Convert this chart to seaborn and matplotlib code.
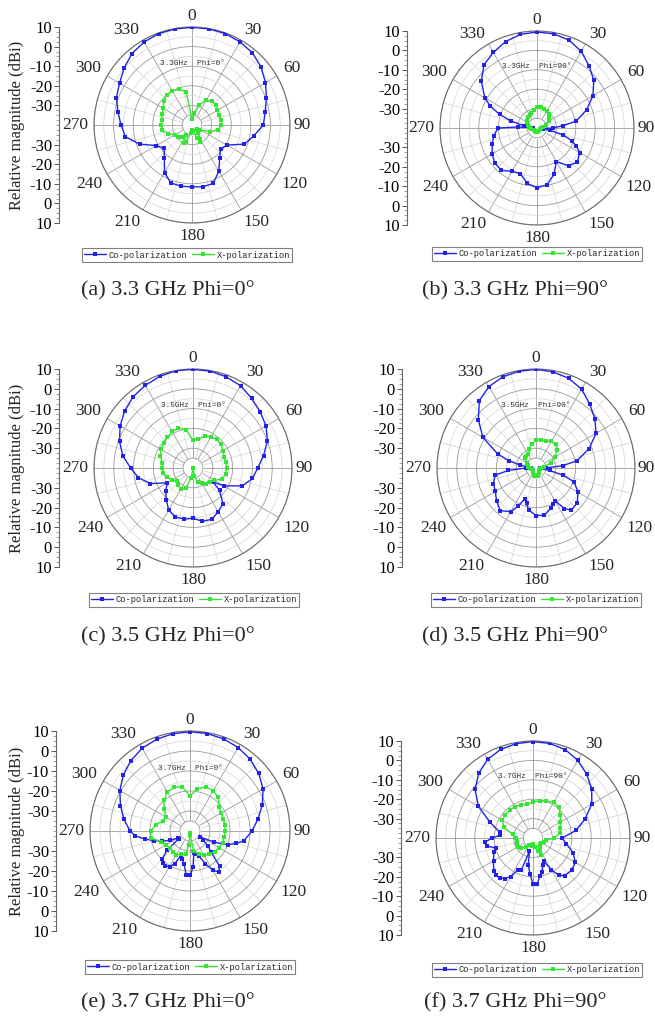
import numpy as np
import pandas as pd
import matplotlib
matplotlib.use("Agg")
import matplotlib.pyplot as plt
import seaborn as sns
from matplotlib.ticker import MultipleLocator

sns.set_theme(style="white")
plt.rcParams['font.family'] = ['Liberation Serif', 'DejaVu Serif']

# ---- data (dB vs angle in degrees) ----
ang_a_co = [0, 10, 20, 30, 40, 50, 60, 70, 80, 90, 100, 110, 120, 130, 140, 150, 160, 170,
            180, 190, 200, 210, 220, 230, 240, 250, 260, 270, 280, 290, 300, 310, 320, 330, 340, 350]
co_a = [9.8, 9.8, 9.6, 9.0, 8.0, 6.0, 3.3, 0.4, -2.1, -3.6, -8.0, -11.5, -19.5, -21.0, -18.0, -12.7, -8.3, -8.0,
        -8.4, -8.3, -8.5, -12.0, -18.0, -21.5, -19.0, -11.5, -5.5, -3.8, -1.6, 1.0, 2.7, 5.2, 7.6, 8.9, 9.6, 9.8]
ang_a_x = [0, 10, 20, 30, 40, 50, 60, 70, 80, 90, 100, 110, 120, 130, 140, 150, 155, 160, 170,
           180, 190, 200, 205, 210, 220, 230, 240, 250, 260, 270, 280, 290, 300, 310, 320, 330, 340, 350]
x_a = [-37.0, -34.0, -29.0, -25.5, -24.3, -23.8, -25.0, -25.5, -25.0, -25.0, -26.5, -30.0, -35.0, -37.0, -35.0, -32.0, -30.5, -33.0, -37.0,
       -37.5, -36.0, -31.0, -30.0, -34.0, -32.0, -30.5, -30.0, -27.0, -24.6, -24.3, -24.3, -23.8, -23.0, -21.2, -19.8, -20.0, -20.4, -23.0]

ang_b_co = [0, 10, 20, 30, 40, 50, 60, 70, 80, 85, 90, 95, 100, 105, 110, 115, 120, 130, 140, 150, 160, 170,
            180, 190, 200, 210, 220, 230, 240, 250, 260, 270, 273, 276, 280, 285, 290, 295, 300, 310, 320, 330, 340, 350]
co_b = [9.5, 9.3, 8.2, 5.6, 1.8, -1.8, -6.7, -12.8, -19.5, -26.7, -32.0, -37.0, -33.0, -26.0, -21.0, -17.6, -14.5, -12.9, -14.5, -20.0, -14.5, -10.3,
        -9.2, -11.0, -15.0, -14.2, -11.5, -11.7, -13.2, -15.5, -17.3, -20.0, -30.0, -38.0, -33.0, -26.0, -19.5, -13.5, -9.0, -2.5, 2.5, 5.0, 7.4, 9.0]
ang_b_x = [0, 10, 20, 30, 40, 50, 60, 70, 80, 90, 100, 120, 140, 160, 180, 200, 220, 240,
           260, 270, 280, 290, 300, 310, 320, 330, 340, 350]
x_b = [-29.0, -28.8, -29.5, -29.6, -30.5, -31.6, -33.0, -35.0, -37.0, -38.0, -38.5, -38.5, -38.3, -38.3, -38.0, -38.0, -38.3, -38.0,
       -37.0, -36.5, -36.0, -35.0, -34.0, -33.2, -32.8, -32.5, -31.5, -30.5]

ang_c_co = [0, 10, 20, 30, 40, 50, 60, 70, 80, 90, 100, 110, 120, 125, 130, 140, 150, 160, 170,
            180, 190, 200, 210, 220, 230, 240, 250, 260, 270, 280, 290, 300, 310, 320, 330, 340, 350]
co_c = [9.8, 9.7, 9.0, 8.0, 6.0, 4.2, 2.6, 0.0, -3.8, -7.3, -9.5, -13.5, -22.0, -27.7, -22.5, -16.5, -14.5, -12.4, -12.7,
        -14.6, -13.8, -13.7, -15.5, -19.0, -22.0, -25.0, -17.0, -12.0, -8.5, -4.0, -0.5, 2.5, 5.0, 7.0, 8.2, 9.2, 9.9]
ang_c_x = [0, 10, 20, 30, 40, 50, 60, 70, 80, 90, 100, 110, 120, 130, 140, 150, 160, 170,
           180, 190, 200, 210, 220, 230, 240, 250, 260, 270, 280, 290, 300, 310, 320, 330, 340, 350]
x_c = [-26.0, -25.0, -23.0, -21.8, -21.2, -21.5, -22.5, -23.2, -23.3, -23.0, -23.3, -24.2, -27.5, -29.0, -29.7, -31.0, -32.6, -36.0,
       -40.0, -35.0, -29.0, -27.5, -28.5, -29.5, -28.0, -26.0, -24.8, -24.5, -24.2, -22.5, -21.3, -20.7, -19.8, -18.7, -18.5, -20.5]

ang_d_co = [0, 10, 20, 30, 40, 50, 60, 70, 80, 85, 90, 95, 100, 105, 110, 120, 130, 140, 145, 150, 155, 160, 170,
            180, 190, 195, 200, 205, 210, 220, 230, 240, 250, 260, 265, 270, 275, 280, 285, 290, 300, 310, 320, 330, 340, 350]
co_d = [9.8, 9.3, 8.2, 6.0, 2.2, -1.2, -5.0, -11.5, -19.0, -26.5, -35.0, -38.0, -33.0, -25.7, -19.5, -15.5, -12.8, -12.2, -15.0, -21.0, -20.0, -18.3, -15.8,
        -16.0, -18.5, -21.5, -23.5, -18.8, -14.5, -11.9, -14.0, -16.3, -17.1, -19.0, -26.0, -35.0, -37.5, -32.0, -26.0, -19.5, -9.0, -2.0, 4.5, 7.5, 9.0, 9.6]
ang_d_x = [0, 10, 20, 30, 40, 50, 60, 70, 80, 90, 100, 110, 120, 130, 140, 150, 160, 170,
           180, 190, 200, 210, 220, 230, 240, 250, 260, 270, 280, 290, 300, 310, 320, 330, 340, 350]
x_d = [-26.0, -25.5, -25.5, -24.5, -24.5, -26.0, -29.0, -32.0, -36.0, -37.5, -38.0, -38.0, -38.0, -38.0, -37.5, -37.0, -36.5, -36.0,
       -36.0, -36.0, -36.5, -37.0, -38.0, -38.0, -38.0, -38.0, -37.5, -37.0, -36.0, -35.5, -35.0, -32.5, -32.0, -32.0, -30.0, -27.5]

ang_e_co = [0, 10, 20, 30, 40, 50, 60, 70, 80, 90, 100, 105, 110, 115, 120, 125, 130, 135, 140, 145, 150, 155, 160, 165, 170, 175,
            180, 185, 190, 195, 200, 205, 210, 215, 220, 225, 230, 235, 240, 245, 250, 255, 260, 265, 270, 280, 290, 300, 310, 320, 330, 340, 350]
co_e = [9.6, 9.5, 9.0, 8.2, 6.8, 4.8, 2.2, -1.5, -5.5, -9.0, -12.5, -16.0, -20.0, -27.0, -34.0, -32.0, -28.0, -25.0, -17.0, -15.0, -17.5, -22.0, -26.5, -28.0, -29.0, -22.0,
        -17.8, -18.0, -23.0, -25.5, -27.0, -22.0, -19.5, -18.5, -19.0, -20.5, -25.0, -33.0, -33.0, -29.0, -25.0, -21.5, -17.0, -12.5, -10.0, -6.5, -3.0, 0.5, 3.5, 6.0, 7.8, 8.8, 9.4]
ang_e_x = [0, 10, 20, 30, 40, 50, 60, 70, 80, 90, 100, 110, 120, 130, 140, 150, 160, 170, 175,
           180, 185, 190, 200, 210, 220, 230, 240, 250, 260, 270, 280, 290, 300, 310, 320, 330, 340, 350]
x_e = [-22.5, -18.5, -16.5, -16.8, -18.0, -21.0, -22.0, -22.2, -22.4, -22.5, -22.5, -22.7, -23.3, -24.0, -25.0, -26.0, -27.5, -30.0, -38.0,
       -39.0, -33.0, -28.2, -27.5, -26.3, -26.5, -26.8, -26.0, -24.5, -20.0, -20.5, -22.5, -25.5, -26.3, -23.0, -19.8, -17.5, -16.8, -17.5]

ang_f_co = [0, 10, 20, 30, 40, 50, 60, 70, 80, 90, 100, 110, 120, 130, 140, 145, 150, 155, 160, 165, 170, 175,
            180, 185, 190, 195, 200, 205, 210, 215, 220, 225, 230, 240, 250, 255, 260, 265, 270, 275, 280, 290, 300, 310, 320, 330, 340, 350]
co_f = [9.7, 9.5, 8.5, 6.2, 3.0, -0.5, -5.0, -11.5, -17.5, -25.0, -22.5, -18.0, -14.8, -14.0, -14.7, -16.5, -21.0, -27.0, -25.0, -22.0, -20.0, -16.0,
        -16.5, -21.5, -26.0, -33.0, -22.5, -22.0, -17.0, -14.5, -13.2, -12.7, -13.5, -16.5, -18.5, -20.0, -16.0, -15.0, -19.0, -23.0, -22.5, -16.5, -7.5, -1.0, 3.5, 6.8, 8.6, 9.4]
ang_f_x = [0, 10, 20, 30, 40, 50, 60, 70, 80, 90, 100, 110, 120, 130, 140, 150, 155, 160, 170,
           180, 190, 200, 210, 220, 230, 240, 250, 260, 270, 280, 290, 300, 310, 320, 330, 340, 350]
x_f = [-21.5, -20.5, -19.8, -18.8, -19.3, -21.5, -23.8, -25.0, -26.0, -29.0, -33.0, -34.0, -35.0, -35.0, -34.5, -33.0, -30.5, -33.0, -35.5,
       -37.0, -36.0, -36.0, -36.0, -34.0, -32.0, -31.0, -31.0, -31.5, -31.0, -29.5, -24.0, -21.8, -21.3, -21.3, -21.3, -22.0, -22.3]

notes = ['3.3GHz  Phi=0°', '3.3GHz  Phi=90°', '3.5GHz  Phi=0°',
         '3.5GHz  Phi=90°', '3.7GHz  Phi=0°', '3.7GHz  Phi=90°']
captions = ['(a) 3.3 GHz Phi=0°', '(b) 3.3 GHz Phi=90°', '(c) 3.5 GHz Phi=0°',
            '(d) 3.5 GHz Phi=90°', '(e) 3.7 GHz Phi=0°', '(f) 3.7 GHz Phi=90°']
theta_ticks = list(range(0, 360, 30))
r_left_labels = ['10', '0', '-10', '-20', '-30', '-30', '-20', '-10', '0', '10']

curves = [(ang_a_co, co_a, ang_a_x, x_a), (ang_b_co, co_b, ang_b_x, x_b),
          (ang_c_co, co_c, ang_c_x, x_c), (ang_d_co, co_d, ang_d_x, x_d),
          (ang_e_co, co_e, ang_e_x, x_e), (ang_f_co, co_f, ang_f_x, x_f)]

# ---- layout in pixels: cx, cy, R, left axis x, legend centre, caption centre ----
W, H = 655, 1024
layout = [
    (192, 125, 98, 59, (187, 255), (168, 291)),
    (537, 128, 97, 407, (537, 254), (515, 291)),
    (193, 468, 99, 59, (194, 600), (168, 637)),
    (536, 468, 99, 402, (536, 600), (515, 637)),
    (190, 831, 100, 56, (190, 967), (168, 1003)),
    (533, 838, 97, 401, (537, 970), (515, 1003)),
]

BLUE = '#2323e8'
GREEN = '#33e633'
MONO = ['Liberation Mono', 'DejaVu Sans Mono']


def curve_frame(ang, vals):
    th = np.deg2rad(list(ang) + [360])
    return pd.DataFrame({'theta': th, 'r': list(vals) + [vals[0]]})


def angle_labels(ax, R):
    # Origin-style: label box corner sits a few pixels off the outer circle
    for t in theta_ticks:
        s, c = np.sin(np.deg2rad(t)), np.cos(np.deg2rad(t))
        ha = 'left' if s > 0.1 else ('right' if s < -0.1 else 'center')
        if c > 0.1:
            va, gap = 'baseline', 7
        elif c < -0.1:
            va, gap = 'top', 5
        else:
            va, gap = 'center', (3 if t == 90 else 6)
        ax.text(np.deg2rad(t), 10 + gap * 50 / R, str(t), ha=ha, va=va,
                fontsize=12.5, clip_on=False)


fig = plt.figure(figsize=(W / 100, H / 100), dpi=100)

for i, (cur, lay) in enumerate(zip(curves, layout)):
    ang_co, co, ang_x, xp = cur
    cx, cy, R, axx, leg_c, cap_c = lay
    rect = [(cx - R) / W, 1 - (cy + R) / H, 2 * R / W, 2 * R / H]
    ax = fig.add_axes(rect, projection='polar')
    ax.set_theta_zero_location('N')
    ax.set_theta_direction(-1)
    ax.set_axisbelow(True)

    sns.lineplot(data=curve_frame(ang_co, co), x='theta', y='r', ax=ax, sort=False,
                 estimator=None, color=BLUE, lw=1.0, marker='s', markersize=2.6,
                 markeredgewidth=0, label='Co-polarization', zorder=3)
    sns.lineplot(data=curve_frame(ang_x, xp), x='theta', y='r', ax=ax, sort=False,
                 estimator=None, color=GREEN, lw=1.0, marker='s', markersize=2.6,
                 markeredgewidth=0, label='X-polarization', zorder=3)

    ax.set_ylim(-40, 10)
    ax.set_yticks([-30, -20, -10, 0, 10])
    ax.set_yticks([-35, -25, -15, -5, 5], minor=True)
    ax.set_yticklabels([])
    ax.set_xticks(np.deg2rad(theta_ticks))
    ax.set_xticklabels([])
    ax.set_xticks(np.deg2rad(np.arange(15, 360, 30)), minor=True)
    ax.grid(True, which='major', color='#9a9a9a', lw=0.6)
    ax.grid(True, which='minor', color='#d4d4d4', lw=0.5)
    ax.tick_params(which='both', length=0)
    ax.spines['polar'].set_color('#6a6a6a')
    ax.spines['polar'].set_linewidth(0.8)
    ax.set_xlabel('')
    ax.set_ylabel('')
    angle_labels(ax, R)

    # blank centre disc like the original
    ring = np.linspace(0, 2 * np.pi, 200)
    ax.fill_between(ring, -40, -35, color='white', zorder=1.2)
    ax.plot(ring, np.full_like(ring, -35), color='#9a9a9a', lw=0.6, zorder=1.3)

    ax.text(0.5, 0.815, notes[i], transform=ax.transAxes, ha='center', va='center',
            fontsize=5.6, family=MONO, color='#333333')

    handles, labels = ax.get_legend_handles_labels()
    leg = ax.legend(handles, labels, loc='center', ncol=2,
                    bbox_to_anchor=(leg_c[0] / W, 1 - leg_c[1] / H), bbox_transform=fig.transFigure,
                    prop={'family': MONO, 'size': 6.3}, frameon=True, fancybox=False,
                    edgecolor='#808080', framealpha=1, borderpad=0.25, handlelength=2.5,
                    handletextpad=0.3, columnspacing=0.6, borderaxespad=0)
    leg.get_frame().set_linewidth(0.8)

    # vertical magnitude axis on the left
    lax = fig.add_axes([axx / W, rect[1], 0.0005, rect[3]])
    lax.set_ylim(-50, 50)
    lax.set_xticks([])
    lax.set_yticks([50, 40, 30, 20, 10, -10, -20, -30, -40, -50])
    lax.set_yticklabels(r_left_labels)
    lax.yaxis.set_minor_locator(MultipleLocator(2.5))
    lax.tick_params(axis='y', which='major', length=3.5, width=0.7, labelsize=12,
                    direction='out', colors='#555555', labelcolor='black', pad=1.5, left=True)
    lax.tick_params(axis='y', which='minor', length=2, width=0.5, direction='out',
                    colors='#777777', left=True)
    for s in ['top', 'right', 'bottom']:
        lax.spines[s].set_visible(False)
    lax.spines['left'].set_color('#666666')
    lax.spines['left'].set_linewidth(0.8)
    lax.patch.set_alpha(0)

    if i % 2 == 0:
        fig.text(17 / W, 1 - cy / H, 'Relative magnitude (dBi)', rotation=90,
                 ha='center', va='center', fontsize=12)

    fig.text(cap_c[0] / W, 1 - cap_c[1] / H, captions[i], ha='center', va='center', fontsize=16)

fig.savefig('out.png', dpi=100)
